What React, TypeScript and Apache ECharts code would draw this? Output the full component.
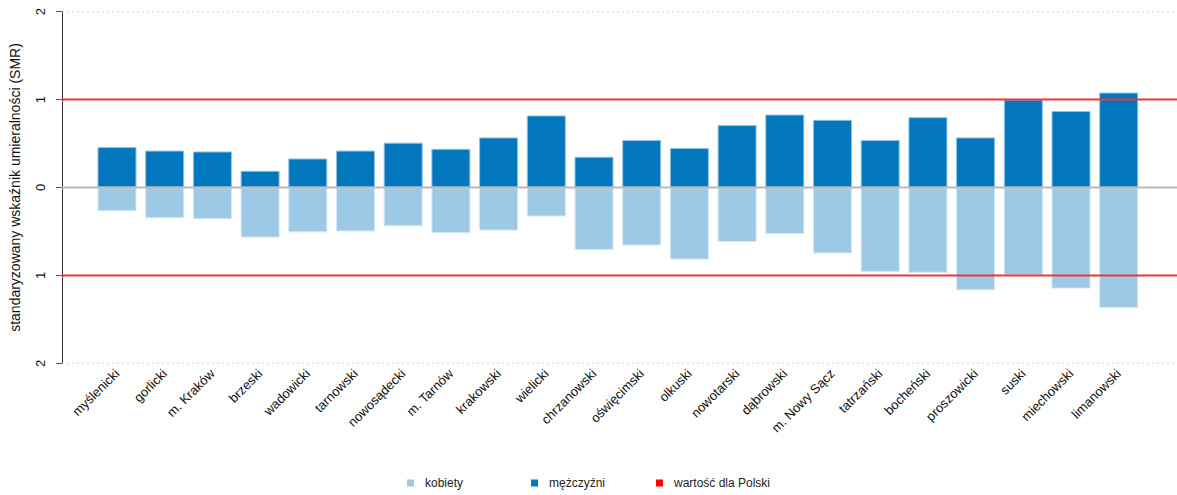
import React, { useEffect, useRef } from "react";
import * as echarts from "echarts";

const categories = [
  "myślenicki", "gorlicki", "m. Kraków", "brzeski", "wadowicki", "tarnowski",
  "nowosądecki", "m. Tarnów", "krakowski", "wielicki", "chrzanowski", "oświęcimski",
  "olkuski", "nowotarski", "dąbrowski", "m. Nowy Sącz", "tatrzański", "bocheński",
  "proszowicki", "suski", "miechowski", "limanowski",
];
const menValues = [
  0.46, 0.42, 0.41, 0.19, 0.33, 0.42, 0.51, 0.44, 0.57, 0.82, 0.35,
  0.54, 0.45, 0.71, 0.83, 0.77, 0.54, 0.8, 0.57, 1.0, 0.87, 1.08,
];
const womenValues = [
  0.27, 0.35, 0.36, 0.57, 0.51, 0.5, 0.44, 0.52, 0.49, 0.33, 0.71,
  0.66, 0.82, 0.62, 0.53, 0.75, 0.96, 0.97, 1.17, 1.0, 1.15, 1.37,
];
const polandValue = 1;
const yTicks = [-2, -1, 0, 1, 2];

const FONT = "'Liberation Sans', Arial, sans-serif";

export default function App() {
  const ref = useRef<HTMLDivElement>(null);
  useEffect(() => {
    if (!ref.current) return;
    const chart = echarts.init(ref.current, undefined, { renderer: "svg" });
    const yMin = yTicks[0];
    const yMax = yTicks[yTicks.length - 1];
    const hLine = (y: number) => [[0, y], [1, y]];
    const legendBase = {
      top: 472,
      itemWidth: 7,
      itemHeight: 7,
      icon: "rect",
      itemStyle: { borderWidth: 0 },
      textStyle: { fontSize: 12, color: "#222", padding: [0, 0, 0, 6], fontFamily: FONT },
    };
    const option: any = {
      animation: false,
      textStyle: { fontFamily: FONT },
      grid: [
        { left: 55, top: 11.7, width: 1122, height: 351.6 },
        { left: 93.15, top: 11.7, width: 1049.4, height: 351.6 },
      ],
      xAxis: [
        { type: "value", gridIndex: 0, min: 0, max: 1, show: false },
        {
          type: "category",
          gridIndex: 1,
          data: categories,
          axisLine: { show: false },
          axisTick: { show: false },
          axisLabel: {
            interval: 0,
            rotate: 45,
            margin: 8,
            fontSize: 13,
            color: "#111",
            fontFamily: FONT,
          },
        },
      ],
      yAxis: [
        {
          type: "value",
          gridIndex: 0,
          min: yMin,
          max: yMax,
          interval: 1,
          name: "standaryzowany wskaźnik umieralności (SMR)",
          nameLocation: "middle",
          nameGap: 40,
          nameTextStyle: { fontSize: 14, color: "#111", fontFamily: FONT },
          axisLine: { show: true, lineStyle: { color: "#333", width: 1 } },
          axisTick: { show: true, length: 6, lineStyle: { color: "#555" } },
          axisLabel: {
            rotate: 90,
            margin: 15,
            fontSize: 13,
            color: "#111",
            fontFamily: FONT,
            formatter: (v: number) => String(Math.abs(v)),
          },
          splitLine: { show: false },
        },
        { type: "value", gridIndex: 1, min: yMin, max: yMax, show: false },
      ],
      legend: [
        { ...legendBase, left: 402, data: [{ name: "kobiety" }] },
        { ...legendBase, left: 526, data: [{ name: "mężczyźni" }] },
        {
          ...legendBase,
          left: 651,
          data: [{ name: "wartość dla Polski", itemStyle: { color: "#ff0000", borderWidth: 0 } }],
        },
      ],
      series: [
        {
          name: "kobiety",
          type: "bar",
          xAxisIndex: 1,
          yAxisIndex: 1,
          data: womenValues.map((v) => -v),
          barWidth: 39,
          barGap: "-100%",
          itemStyle: { color: "#9dc8e6", borderColor: "#d4e8f5", borderWidth: 1 },
          z: 2,
        },
        {
          name: "mężczyźni",
          type: "bar",
          xAxisIndex: 1,
          yAxisIndex: 1,
          data: menValues,
          barWidth: 39,
          barGap: "-100%",
          itemStyle: { color: "#0277bd", borderColor: "#8fc2e4", borderWidth: 1 },
          z: 2,
        },
        {
          name: "top",
          type: "line",
          xAxisIndex: 0,
          yAxisIndex: 0,
          data: hLine(yMax),
          symbol: "none",
          silent: true,
          lineStyle: { color: "#bcd3e6", width: 1, type: [2, 3] },
          z: 3,
        },
        {
          name: "bottom",
          type: "line",
          xAxisIndex: 0,
          yAxisIndex: 0,
          data: hLine(yMin),
          symbol: "none",
          silent: true,
          lineStyle: { color: "#bcd3e6", width: 1, type: [2, 3] },
          z: 3,
        },
        {
          name: "zero",
          type: "line",
          xAxisIndex: 0,
          yAxisIndex: 0,
          data: hLine(0),
          symbol: "none",
          silent: true,
          lineStyle: { color: "#b9b9b9", width: 2 },
          z: 4,
        },
        {
          name: "wartość dla Polski",
          type: "line",
          xAxisIndex: 0,
          yAxisIndex: 0,
          data: hLine(polandValue),
          symbol: "none",
          silent: true,
          itemStyle: { color: "#ff0000" },
          lineStyle: { color: "#f0353a", width: 2 },
          z: 5,
        },
        {
          name: "wartość dla Polski",
          type: "line",
          xAxisIndex: 0,
          yAxisIndex: 0,
          data: hLine(-polandValue),
          symbol: "none",
          silent: true,
          itemStyle: { color: "#ff0000" },
          lineStyle: { color: "#f0353a", width: 2 },
          z: 5,
        },
      ],
    };
    chart.setOption(option);
    return () => chart.dispose();
  }, []);
  return (
    <div
      ref={ref}
      style={{ position: "fixed", left: 0, top: 0, width: 1177, height: 495, background: "#fff" }}
    />
  );
}
